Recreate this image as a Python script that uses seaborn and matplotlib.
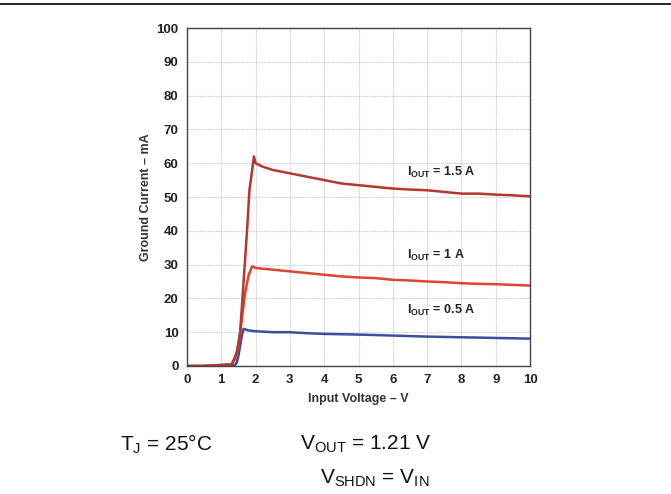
import matplotlib
matplotlib.use("Agg")
import matplotlib.pyplot as plt
import seaborn as sns
import pandas as pd

sns.set_theme(style="white")
plt.rcParams['font.family'] = ['Liberation Sans', 'DejaVu Sans']
plt.rcParams['mathtext.fontset'] = 'custom'
plt.rcParams['mathtext.rm'] = 'Liberation Sans'
plt.rcParams['mathtext.bf'] = 'Liberation Sans:bold'
plt.rcParams['mathtext.it'] = 'Liberation Sans'

# Data
v_15 = [0, 0.5, 1.0, 1.3, 1.35, 1.45, 1.55, 1.65, 1.75, 1.82, 1.9, 1.95, 2.0, 2.2, 2.5, 3.0, 3.5, 4.0, 4.5, 5.0, 5.5, 6.0, 6.5, 7.0, 7.5, 8.0, 8.5, 9.0, 9.5, 10.0]
i_15 = [0, 0, 0.3, 0.5, 1.5, 4, 10, 25, 40, 52, 58, 62, 60, 59, 58, 57, 56, 55, 54, 53.5, 53, 52.5, 52.2, 52, 51.5, 51, 51, 50.7, 50.5, 50.2]
v_10 = [0, 0.5, 1.0, 1.3, 1.4, 1.5, 1.6, 1.7, 1.8, 1.9, 2.0, 2.5, 3.0, 3.5, 4.0, 4.5, 5.0, 5.5, 6.0, 6.5, 7.0, 7.5, 8.0, 8.5, 9.0, 9.5, 10.0]
i_10 = [0, 0, 0.3, 0.5, 2, 6, 14, 22, 27, 29.5, 29, 28.5, 28, 27.5, 27, 26.5, 26.2, 26, 25.5, 25.3, 25, 24.8, 24.5, 24.3, 24.2, 24, 23.8]
v_05 = [0, 0.5, 1.0, 1.4, 1.45, 1.5, 1.55, 1.6, 1.65, 1.8, 2.0, 2.5, 3.0, 3.5, 4.0, 5.0, 6.0, 7.0, 8.0, 9.0, 10.0]
i_05 = [0, 0, 0.2, 0.3, 1, 3, 6, 9, 11, 10.5, 10.3, 10, 10, 9.7, 9.5, 9.3, 9, 8.7, 8.5, 8.3, 8.1]
labels = ["I_OUT = 1.5 A", "I_OUT = 1 A", "I_OUT = 0.5 A"]
label_pos = [(6.4, 57.2), (6.4, 32.8), (6.4, 16.4)]
x_ticks = list(range(0, 11))
y_ticks = list(range(0, 101, 10))

df = pd.concat([
    pd.DataFrame({"v": v_15, "i": i_15, "s": "1.5"}),
    pd.DataFrame({"v": v_10, "i": i_10, "s": "1"}),
    pd.DataFrame({"v": v_05, "i": i_05, "s": "0.5"}),
])
palette = {"1.5": "#b5372d", "1": "#e0432f", "0.5": "#3c4f9f"}

fig = plt.figure(figsize=(6.71, 4.94), dpi=100)
ax = fig.add_axes([187/671, 1-366/494, (530-187)/671, (366-28)/494])

sns.lineplot(data=df, x="v", y="i", hue="s", hue_order=["0.5", "1", "1.5"],
             palette=palette, ax=ax, legend=False, linewidth=1.8, sort=False,
             estimator=None)

ax.set_xlim(0, 10)
ax.set_ylim(0, 100)
ax.set_xticks(x_ticks)
ax.set_yticks(y_ticks)
ax.grid(True, color="#cdd2dc", linewidth=0.8, linestyle=(0, (1.5, 0.8)))
for sp in ax.spines.values():
    sp.set_color("#444444")
    sp.set_linewidth(1.0)
ax.tick_params(axis="both", length=0, pad=6, labelsize=9.5, colors="#222222")
for lab in ax.get_xticklabels() + ax.get_yticklabels():
    lab.set_fontweight("bold")
ax.set_xlabel("Input Voltage – V", fontsize=9, fontweight="bold", color="#333333", labelpad=5)
ax.set_ylabel("Ground Current – mA", fontsize=9, fontweight="bold", color="#333333", labelpad=3)

for lab, (x, y) in zip(labels, label_pos):
    name, rest = lab.split(" = ")
    ax.text(x, y, r"$\mathbf{I_{OUT}}$" + " = " + rest, fontsize=9,
            fontweight="bold", color="#222222", va="center", ha="left")

fig.add_artist(plt.Line2D([0, 1], [1-4/494, 1-4/494], color="black", linewidth=1.2))
fig.text(120/671, 1-444/494, r"T$_\mathrm{J}$ = 25°C", fontsize=15, va="center", color="#111111")
fig.text(300/671, 1-444/494, r"V$_\mathrm{OUT}$ = 1.21 V", fontsize=15, va="center", color="#111111")
fig.text(320/671, 1-478/494, r"V$_\mathrm{SHDN}$ = V$_\mathrm{IN}$", fontsize=15, va="center", color="#111111")

fig.savefig("out.png", dpi=100)
